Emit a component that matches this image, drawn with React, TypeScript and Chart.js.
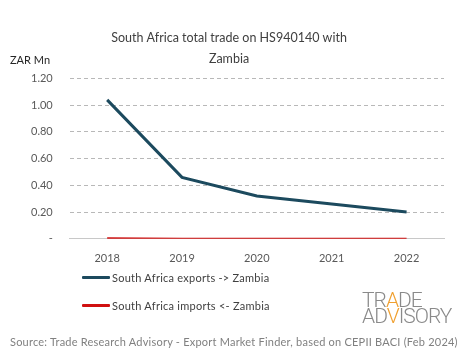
import React, { useEffect, useRef } from "react";
import { Chart, registerables } from "chart.js";

Chart.register(...registerables);

const years = ["2018", "2019", "2020", "2021", "2022"];
const exportsZm = [1.04, 0.46, 0.32, 0.26, 0.2];
const importsZm = [0.005, 0.001, 0, 0, 0];
const titleLines = ["South Africa total trade on HS940140 with", "Zambia"];
const seriesNames = ["South Africa exports -> Zambia", "South Africa imports <- Zambia"];
const seriesColors = ["#1c4a5e", "#d01010"];
const sourceText = "Source: Trade Research Advisory - Export Market Finder, based on CEPII BACI (Feb 2024)";

const FONT = "Lato, 'Noto Sans', sans-serif";

export default function App() {
  const ref = useRef<HTMLCanvasElement | null>(null);

  useEffect(() => {
    if (!ref.current) return;
    const chart = new Chart(ref.current, {
      type: "line",
      data: {
        labels: years,
        datasets: [
          {
            label: seriesNames[0],
            data: exportsZm,
            borderColor: seriesColors[0],
            backgroundColor: seriesColors[0],
            borderWidth: 3,
            pointRadius: 0,
            tension: 0,
          },
          {
            label: seriesNames[1],
            data: importsZm,
            borderColor: seriesColors[1],
            backgroundColor: seriesColors[1],
            borderWidth: 2,
            pointRadius: 0,
            tension: 0,
          },
        ],
      },
      options: {
        animation: false,
        responsive: false,
        maintainAspectRatio: false,
        layout: { padding: { left: 14, right: 21, top: 19, bottom: 89 } },
        plugins: {
          legend: { display: false },
          tooltip: { enabled: false },
          title: {
            display: true,
            text: titleLines,
            color: "#404040",
            font: { family: FONT, size: 12.5, weight: "normal", lineHeight: 1.7 },
            padding: { top: 8, bottom: 9 },
          },
        },
        scales: {
          x: {
            offset: true,
            grid: { display: false },
            border: { display: true, color: "#c8c8c8", width: 1 },
            ticks: {
              color: "#595959",
              font: { family: FONT, size: 11 },
              padding: 5,
            },
          },
          y: {
            min: 0,
            max: 1.2,
            grid: {
              display: true,
              color: (ctx: any) =>
                ctx.tick && Math.abs(Number(ctx.tick.value)) < 1e-9 ? "rgba(255,255,255,0)" : "#b8b8b8",
              lineWidth: 1,
              drawTicks: false,
            },
            border: { display: false, dash: [4, 3] },
            ticks: {
              stepSize: 0.2,
              color: "#595959",
              font: { family: FONT, size: 11 },
              padding: 17,
              callback: (v: any) => (Math.abs(Number(v)) < 1e-9 ? "-" : Number(v).toFixed(2)),
            },
          },
        },
      },
    });
    return () => chart.destroy();
  }, []);

  const legendRow = (i: number, top: number) => (
    <div
      key={i}
      style={{ position: "absolute", left: 82, top: top - 8, height: 16, display: "flex", alignItems: "center" }}
    >
      <div style={{ width: 28, height: 3, background: seriesColors[i], borderRadius: 1 }} />
      <span
        style={{
          marginLeft: 2,
          fontSize: 11,
          color: "#404040",
          fontFamily: FONT,
          whiteSpace: "nowrap",
          letterSpacing: 0.25,
        }}
      >
        {seriesNames[i]}
      </span>
    </div>
  );

  return (
    <div style={{ position: "fixed", left: 0, top: 0, width: 465, height: 359, background: "#fff", overflow: "hidden" }}>
      <canvas ref={ref} width={465} height={359} style={{ position: "absolute", left: 0, top: 0 }} />
      <div style={{ position: "absolute", left: 10, top: 53, fontSize: 11, color: "#262626", fontFamily: FONT }}>ZAR Mn</div>
      {legendRow(0, 277)}
      {legendRow(1, 305)}
      <div
        style={{
          position: "absolute",
          left: 362,
          top: 292,
          fontFamily: "Roboto, sans-serif",
          fontWeight: 300,
          fontSize: 21,
          lineHeight: "16px",
          color: "#8a8a8a",
          letterSpacing: -1,
        }}
      >
        <div>
          TR<span style={{ color: "#f0a030" }}>A</span>DE
        </div>
        <div>
          AD<span style={{ color: "#f0a030" }}>V</span>ISORY
        </div>
      </div>
      <div
        style={{
          position: "absolute",
          left: 10,
          top: 335,
          fontSize: 11,
          color: "#808080",
          fontFamily: FONT,
          whiteSpace: "nowrap",
          letterSpacing: 0.22,
        }}
      >
        {sourceText}
      </div>
    </div>
  );
}
